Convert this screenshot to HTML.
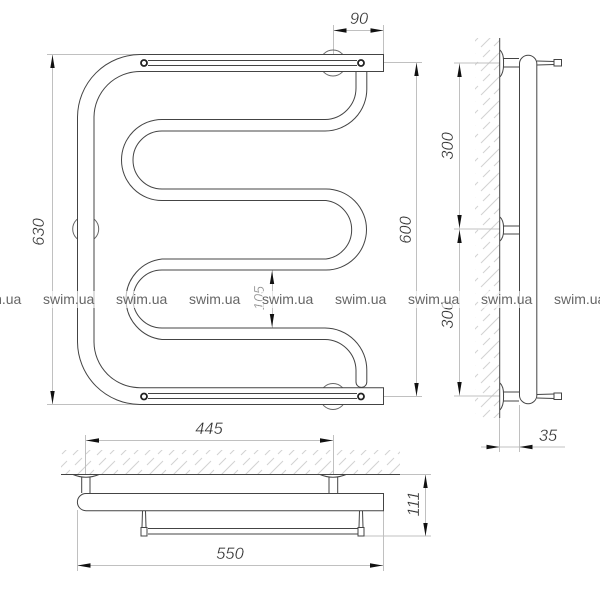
<!DOCTYPE html>
<html><head><meta charset="utf-8"><style>
html,body{margin:0;padding:0;background:#fff}
svg{display:block}
.l{fill:none;stroke:#444;stroke-width:1}
.d{fill:none;stroke:#c0c0c0;stroke-width:1}
.t{font-family:"Liberation Sans",sans-serif;font-style:italic;font-size:16.5px;fill:#333;stroke:#fff;stroke-width:.3}
.w{font-family:"Liberation Sans",sans-serif;font-size:14px;fill:#666}
</style></head><body>
<svg width="600" height="600" viewBox="0 0 600 600" xmlns="http://www.w3.org/2000/svg">
<defs>
<pattern id="h" width="24" height="24" patternUnits="userSpaceOnUse">
<path d="M1 23L19 5M3 9L10 2M14 22L22 14" stroke="#d2d2d2" stroke-width="1" fill="none"/>
</pattern>
<path id="au" d="M0 0L2.200 13H-2.200Z" fill="#111"/>
</defs>
<rect width="600" height="600" fill="#fff"/>

<!-- hatch -->
<rect x="475" y="38" width="24.500" height="380" fill="url(#h)"/>
<rect x="61" y="450" width="339" height="24" fill="url(#h)"/>

<!-- dimension lines -->
<path class="d" d="M47 54.500H140M47 404.500H140M52.500 54V405"/>
<path class="d" d="M333.500 25V62M383.500 25V54M333 30.500H383.500"/>
<path class="d" d="M384 62.500H422M384 396.500H422M416.500 63V396"/>
<path class="d" d="M272.500 270V328"/>
<path class="d" d="M454 63H500M454 229H500M454 396H500M459.500 63V396"/>
<path class="d" d="M499.500 418V452M519.500 405V452M481 447H565"/>
<path class="d" d="M85.500 435V475M333.500 435V475M85.500 440.500H333.500"/>
<path class="d" d="M77.500 510V571M383.500 510V571M77 565.500H383.500"/>
<path class="d" d="M400 474.500H431M364 536H431M425.500 474V536"/>

<!-- arrowheads -->
<use href="#au" transform="translate(52.500,55)"/>
<use href="#au" transform="translate(52.500,404) rotate(180)"/>
<use href="#au" transform="translate(333.500,30.500) rotate(-90)"/>
<use href="#au" transform="translate(383.500,30.500) rotate(90)"/>
<use href="#au" transform="translate(416.500,63)"/>
<use href="#au" transform="translate(416.500,396) rotate(180)"/>
<use href="#au" transform="translate(272,271)"/>
<use href="#au" transform="translate(272,327) rotate(180)"/>
<use href="#au" transform="translate(459.500,64)"/>
<use href="#au" transform="translate(459.500,228) rotate(180)"/>
<use href="#au" transform="translate(459.500,230)"/>
<use href="#au" transform="translate(459.500,395) rotate(180)"/>
<use href="#au" transform="translate(499.500,447) rotate(90)"/>
<use href="#au" transform="translate(519.500,447) rotate(-90)"/>
<use href="#au" transform="translate(86,440.500) rotate(-90)"/>
<use href="#au" transform="translate(333,440.500) rotate(90)"/>
<use href="#au" transform="translate(77.500,565.500) rotate(-90)"/>
<use href="#au" transform="translate(383,565.500) rotate(90)"/>
<use href="#au" transform="translate(425.500,475)"/>
<use href="#au" transform="translate(425.500,536) rotate(180)"/>

<!-- wall plates front view -->
<circle class="l" cx="333" cy="63" r="13" style="stroke:#666"/>
<circle class="l" cx="333" cy="396.500" r="13" style="stroke:#666"/>
<circle class="l" cx="85.700" cy="229" r="13" style="stroke:#666"/>
<rect x="78" y="215" width="15.500" height="30" fill="#fff"/>
<rect x="140" y="55" width="243" height="16" fill="#fff"/>
<rect x="140" y="388" width="243" height="16" fill="#fff"/>

<!-- main front tube -->
<path class="l" d="M383.500 54.500H140A63 63 0 0 0 77.500 117V342A63 63 0 0 0 140 404.500H383.500V387.700H140A46 46 0 0 1 94 342V117A46 46 0 0 1 140 71.500H383.500Z"/>
<!-- serpentine -->
<path class="l" d="M356 71V88A31.500 31.500 0 0 1 325 119.500H162A40.500 40.500 0 0 0 162 200.500H326A29.500 29.500 0 0 1 326 259H162A40.500 40.500 0 0 0 162 339.500H325A31.500 31.500 0 0 1 356 370V382A5.400 5.400 0 0 0 366.800 382V370A42 42 0 0 0 325 328H162A29 29 0 0 1 162 270H326A40.500 40.500 0 0 0 326 189H162A29 29 0 0 1 162 131H325A42 42 0 0 0 366.800 88V71"/>

<!-- rods -->
<path class="l" d="M148 60.500H357M148 65.500H357M148 393.500H357M148 398.500H357"/>
<circle class="l" cx="144" cy="63" r="3" style="stroke-width:1.800;stroke:#222" fill="#fff"/>
<circle class="l" cx="361" cy="63" r="3" style="stroke-width:1.800;stroke:#222" fill="#fff"/>
<circle class="l" cx="144" cy="396.500" r="3" style="stroke-width:1.800;stroke:#222" fill="#fff"/>
<circle class="l" cx="361" cy="396.500" r="3" style="stroke-width:1.800;stroke:#222" fill="#fff"/>

<!-- side view -->
<path class="l" d="M499.700 38V418"/>
<path class="l" d="M500 50Q504 54 503.500 63Q504 72 500 77M500 217Q504 221 503.500 229Q504 237 500 241M500 383Q504 387 503.500 396Q504 405 500 410"/>
<path class="l" d="M503.500 58.500H519M503.500 67H519M503.500 226H519M503.500 234H519M503.500 392H519M503.500 401H519"/>
<path class="l" d="M519.500 63A8.700 8.700 0 0 1 536.800 63V396A8.700 8.700 0 0 1 519.500 396Z"/>
<path class="l" d="M537 61L554 61.500M537 65L554 64.500M537 394.500L554 394M537 398L554 398.500"/>
<rect class="l" x="554" y="59.500" width="7.500" height="6.500" fill="#fff"/>
<rect class="l" x="554" y="393" width="7.500" height="6.500" fill="#fff"/>

<!-- bottom view -->
<path class="l" d="M61 474.500H400"/>
<path class="l" d="M73 474.500Q86 480 99 474.500M320 474.500Q333 480 346 474.500"/>
<path class="l" d="M81.700 477V493M90 477V493M329 477V493M337.700 477V493"/>
<path class="l" d="M86 493.500H383.500V510.700H86A8.600 8.600 0 0 1 86 493.500Z"/>
<path class="l" d="M148 528.500H358M148 534H358"/>
<path class="l" d="M142.500 511L142 527M145.500 511L146 527M359.500 511L359 527M362.500 511L363 527"/>
<rect class="l" x="141" y="527.500" width="6" height="8.500" fill="#fff"/>
<rect class="l" x="358" y="527.500" width="6" height="8.500" fill="#fff"/>

<!-- dim text -->
<text class="t" text-anchor="middle" transform="translate(44,232) rotate(-90)">630</text>
<text class="t" text-anchor="middle" x="359" y="24">90</text>
<text class="t" text-anchor="middle" transform="translate(411,230) rotate(-90)">600</text>
<text class="t" text-anchor="middle" style="fill:#888;font-size:14.500px" transform="translate(264,298) rotate(-90)">105</text>
<text class="t" text-anchor="middle" transform="translate(453,146) rotate(-90)">300</text>
<text class="t" text-anchor="middle" transform="translate(453,315) rotate(-90)">300</text>
<text class="t" text-anchor="middle" x="548" y="441">35</text>
<text class="t" text-anchor="middle" x="209" y="434">445</text>
<text class="t" text-anchor="middle" x="230" y="559">550</text>
<text class="t" text-anchor="middle" transform="translate(419,504) rotate(-90)">111</text>

<!-- watermarks -->
<g fill="#fff" fill-opacity=".65">
<rect x="-30" y="291" width="52" height="17"/><rect x="43" y="291" width="52" height="17"/><rect x="116" y="291" width="52" height="17"/><rect x="189" y="291" width="52" height="17"/><rect x="262" y="291" width="52" height="17"/><rect x="335" y="291" width="52" height="17"/><rect x="408" y="291" width="52" height="17"/><rect x="481" y="291" width="52" height="17"/><rect x="554" y="291" width="52" height="17"/>
</g>
<text class="w" x="-30" y="304">swim.ua</text>
<text class="w" x="43" y="304">swim.ua</text>
<text class="w" x="116" y="304">swim.ua</text>
<text class="w" x="189" y="304">swim.ua</text>
<text class="w" x="262" y="304">swim.ua</text>
<text class="w" x="335" y="304">swim.ua</text>
<text class="w" x="408" y="304">swim.ua</text>
<text class="w" x="481" y="304">swim.ua</text>
<text class="w" x="554" y="304">swim.ua</text>
</svg>
</body></html>
